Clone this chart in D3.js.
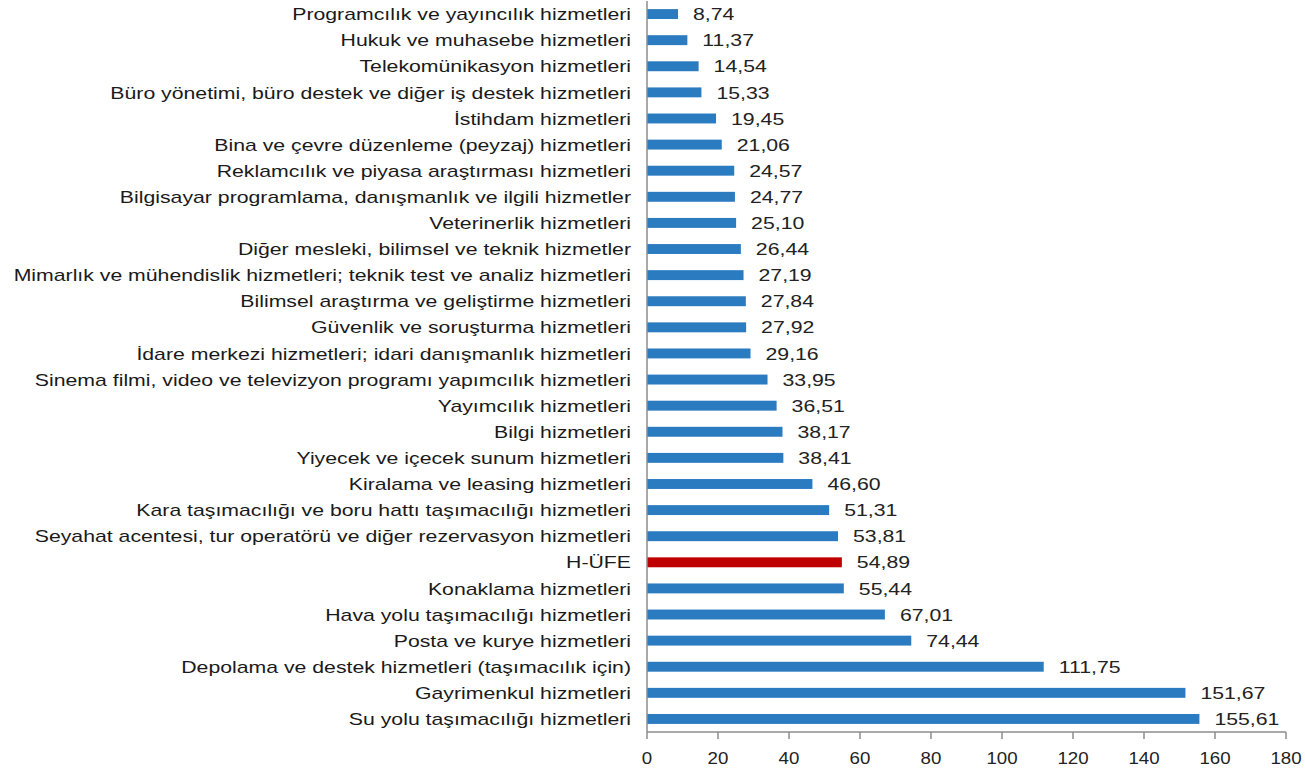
<!DOCTYPE html>
<html>
<head>
<meta charset="utf-8">
<script src="https://cdn.jsdelivr.net/npm/d3@7"></script>
<style>
  html, body { margin: 0; padding: 0; background: #fff; }
  svg { display: block; font-family: "Liberation Sans", Arial, sans-serif; }
</style>
</head>
<body>
<svg id="chart" width="1305" height="777"></svg>
<script>
// --- Data ---
const categories = [
  "Programcılık ve yayıncılık hizmetleri",
  "Hukuk ve muhasebe hizmetleri",
  "Telekomünikasyon hizmetleri",
  "Büro yönetimi, büro destek ve diğer iş destek hizmetleri",
  "İstihdam hizmetleri",
  "Bina ve çevre düzenleme (peyzaj) hizmetleri",
  "Reklamcılık ve piyasa araştırması hizmetleri",
  "Bilgisayar programlama, danışmanlık ve ilgili hizmetler",
  "Veterinerlik hizmetleri",
  "Diğer mesleki, bilimsel ve teknik hizmetler",
  "Mimarlık ve mühendislik hizmetleri; teknik test ve analiz hizmetleri",
  "Bilimsel araştırma ve geliştirme hizmetleri",
  "Güvenlik ve soruşturma hizmetleri",
  "İdare merkezi hizmetleri; idari danışmanlık hizmetleri",
  "Sinema filmi, video ve televizyon programı yapımcılık hizmetleri",
  "Yayımcılık hizmetleri",
  "Bilgi hizmetleri",
  "Yiyecek ve içecek sunum hizmetleri",
  "Kiralama ve leasing hizmetleri",
  "Kara taşımacılığı ve boru hattı taşımacılığı hizmetleri",
  "Seyahat acentesi, tur operatörü ve diğer rezervasyon hizmetleri",
  "H-ÜFE",
  "Konaklama hizmetleri",
  "Hava yolu taşımacılığı hizmetleri",
  "Posta ve kurye hizmetleri",
  "Depolama ve destek hizmetleri (taşımacılık için)",
  "Gayrimenkul hizmetleri",
  "Su yolu taşımacılığı hizmetleri"
];
const values = [
  8.74, 11.37, 14.54, 15.33, 19.45, 21.06, 24.57, 24.77, 25.10, 26.44,
  27.19, 27.84, 27.92, 29.16, 33.95, 36.51, 38.17, 38.41, 46.60, 51.31,
  53.81, 54.89, 55.44, 67.01, 74.44, 111.75, 151.67, 155.61
];
const highlight = ["H-ÜFE"];
const xTicks = [0, 20, 40, 60, 80, 100, 120, 140, 160, 180];

const data = categories.map((c, i) => ({ label: c, value: values[i] }));

// --- Layout ---
const BLUE = "#2b7bc1";
const RED = "#c00000";
const AXIS = "#8c8c8c";
const STRETCH = 1.25; // le texte de la source est étiré horizontalement
const fmt = v => v.toFixed(2).replace(".", ",");

const svg = d3.select("#chart");

const x = d3.scaleLinear().domain([0, 180]).range([647, 1286]);
const y = d3.scaleBand().domain(categories).range([1, 732])
  .paddingInner(0.62).paddingOuter(0.31);

// Bars
svg.append("g").selectAll("rect")
  .data(data).join("rect")
  .attr("x", x(0))
  .attr("y", d => y(d.label))
  .attr("width", d => x(d.value) - x(0))
  .attr("height", y.bandwidth())
  .attr("fill", d => highlight.includes(d.label) ? RED : BLUE);

// Value labels
svg.append("g").selectAll("text")
  .data(data).join("text")
  .attr("transform", d => `translate(${x(d.value) + 15}, ${y(d.label) + y.bandwidth() / 2}) scale(${STRETCH},1)`)
  .attr("dy", "0.36em")
  .attr("font-size", "17px")
  .attr("fill", "#222")
  .text(d => fmt(d.value));

// Category labels
svg.append("g").selectAll("text")
  .data(data).join("text")
  .attr("transform", d => `translate(631, ${y(d.label) + y.bandwidth() / 2}) scale(${STRETCH},1)`)
  .attr("dy", "0.36em")
  .attr("text-anchor", "end")
  .attr("font-size", "17px")
  .attr("fill", "#1a1a1a")
  .text(d => d.label);

// Y axis line
svg.append("line")
  .attr("x1", x(0)).attr("x2", x(0))
  .attr("y1", 1).attr("y2", 732)
  .attr("stroke", AXIS).attr("stroke-width", 1.5);

// X axis
const gx = svg.append("g").attr("transform", "translate(0,732)");
gx.append("line")
  .attr("x1", x(0)).attr("x2", x(180))
  .attr("stroke", AXIS).attr("stroke-width", 1.5);
gx.selectAll("line.tick")
  .data(xTicks).join("line")
  .attr("class", "tick")
  .attr("x1", d => x(d)).attr("x2", d => x(d))
  .attr("y1", 0).attr("y2", 7)
  .attr("stroke", AXIS).attr("stroke-width", 1.5);
gx.selectAll("text")
  .data(xTicks).join("text")
  .attr("transform", d => `translate(${x(d)}, 26) scale(1.1,1)`)
  .attr("dy", "0.36em")
  .attr("text-anchor", "middle")
  .attr("font-size", "17px")
  .attr("fill", "#222")
  .text(d => d);
</script>
</body>
</html>
